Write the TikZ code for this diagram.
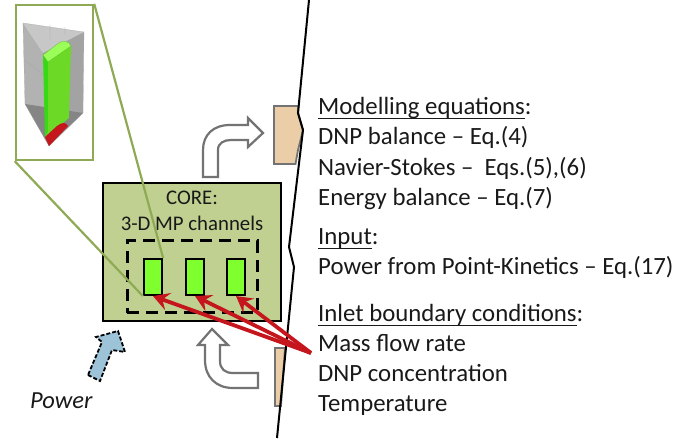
\documentclass[tikz,border=0pt]{standalone}
\usepackage{fontspec}
\setmainfont{Carlito}
\usetikzlibrary{arrows.meta}
\definecolor{coregreen}{HTML}{C0D090}
\definecolor{chgreen}{HTML}{80FF2E}
\definecolor{linkgreen}{HTML}{8FAA55}
\definecolor{peach}{HTML}{EBCDA8}
\definecolor{flowred}{HTML}{C4161C}
\definecolor{powerblue}{HTML}{9DC3D8}
\newcommand\ulin[1]{\setbox0\hbox{#1}\rlap{\rule[-3.8pt]{\wd0}{1.2pt}}\box0}
\tikzset{
	txt/.style={anchor=base west,inner sep=0,font=\fontsize{24.8}{26}\selectfont,text=black!90},
	coretxt/.style={anchor=base,inner sep=0,font=\fontsize{20.8}{22}\selectfont,text=black!90},
	chan/.style={draw,line width=2.2pt,fill=chgreen,minimum width=18,minimum height=36,inner sep=0},
	link/.style={draw=linkgreen,line width=2.2pt},
	flow/.style={draw=flowred,line width=3.8pt,-{Stealth[length=16pt,width=18pt,inset=6pt]}},
	bent/.style={draw=black!55,line width=2.2pt,fill=white,line join=miter},
	block/.style={draw=black!55,line width=1.8pt,fill=peach}
}
\begin{document}
\begin{tikzpicture}[x=1pt,y=-1pt]
	\useasboundingbox (0,0) rectangle (694,443);
	
	%PEACH BLOCKS
	\draw[block] (298.5,106)--(274,106)--(274,164)--(295.5,164)--(298,150)--(303,130)--(298,113)--cycle;
	\draw[block] (285,348)--(275,348)--(275,406)--(281,406)--cycle;
	
	%BOUNDARY
	\draw[line width=2pt] (309,0)--(298,113)--(303,130)--(289,247)--(294,267)--(277,438);
	
	%BENT ARROWS
	\draw[bent] (203,177)--(218,177)--(218,150) .. controls (218,143) and (224,140) .. (231,140)--(248,140)--(248,147)--(263,133)--(248,118)--(248,125)--(230,125) .. controls (213,125) and (203,135) .. (203,150)--cycle;
	\draw[bent] (212,329)--(228,345)--(220,345)--(220,361) .. controls (220,369) and (225,373) .. (233,373)--(258,373)--(258,388)--(233,388) .. controls (216,388) and (205,377) .. (205,360)--(205,345)--(198,345)--cycle;
	
	%CORE
	\node[draw,line width=2pt,fill=coregreen,minimum width=178,minimum height=138,inner sep=0] (core) at (192,252) {};
	\node[coretxt] (coretitle) at (192,205) {CORE:};
	\node[coretxt] (coresub) at (192,231) {3-D MP channels};
	\node[draw,line width=3pt,dash pattern=on 12pt off 7pt,minimum width=130,minimum height=72,inner sep=0] (mpbox) at (192,277) {};
	\node[chan] (chanA) at (153,277) {};
	\node[chan] (chanB) at (195,277) {};
	\node[chan] (chanC) at (236,277) {};
	
	%INSET
	\node[draw=linkgreen,line width=2.4pt,fill=white,minimum width=77,minimum height=155,inner sep=0] (inset) at (54.5,82.5) {};
	\fill[black!22] (23,23)--(84,32)--(43,53)--cycle;
	\fill[black!30] (23,23)--(43,53)--(49,146)--(25,104)--cycle;
	\fill[black!36] (84,32)--(43,53)--(49,146)--(83,113)--cycle;
	\fill[black!48] (25,104)--(83,113)--(49,146)--cycle;
	\draw[black!35,very thin] (23,23)--(84,32)--(83,113)--(49,146)--(25,104)--cycle (43,53)--(49,146) (25,60)--(43,75) (84,70)--(48,100) (50,25)--(50,40) (65,27)--(65,35);
	\fill[green!50!chgreen!85!black] (43,55)--(48,62)--(48,132)--(45,137)--cycle;
	\fill[chgreen!85!black] (48,62) .. controls (55,55) and (65,48) .. (71,46)--(69,118)--(63,123)--(45,137)--(48,132)--cycle;
	\fill[chgreen!80!white,draw=chgreen!70!black,very thin] (43,55)--(59,43) .. controls (63,40) and (69,41) .. (71,46)--(48,62)--cycle;
	\fill[flowred] (45,137)--(57,126) .. controls (62,122) and (66,122) .. (68,126)--(49,146)--cycle;
	
	%LINKS
	\draw[link] (inset.north east)--(chanA.north east);
	\draw[link] (inset.south west)--(chanA.south west);
	
	%RED ARROWS
	\coordinate (fork) at (311,353);
	\draw[flow] (fork)--(chanA.south);
	\draw[flow] (fork)--(chanB.south);
	\draw[flow] (fork)--(chanC.south);
	
	%POWER
	\draw[fill=powerblue,line width=1.8pt,dash pattern=on 4pt off 2pt] (88,375)--(100,381)--(112,350)--(125,352)--(118,331)--(96,337)--(102,342)--cycle;
	\node[txt,font=\fontsize{24.5}{26}\selectfont\itshape] (power) at (30,409) {Power};
	
	%TEXT
	\node[txt] (eqhead) at (318,115) {\ulin{Modelling equations}:};
	\node[txt] (eqdnp) at (318,145) {DNP balance – Eq.(4)};
	\node[txt] (eqns) at (318,176) {Navier-Stokes –~ Eqs.(5),(6)};
	\node[txt] (eqen) at (318,206) {Energy balance – Eq.(7)};
	\node[txt] (inhead) at (318,245) {\ulin{Input}:};
	\node[txt] (inpow) at (318,275) {Power from Point-Kinetics – Eq.(17)};
	\node[txt] (bchead) at (318,322) {\ulin{Inlet boundary conditions}:};
	\node[txt] (bcmass) at (318,352) {Mass flow rate};
	\node[txt] (bcdnp) at (318,382) {DNP concentration};
	\node[txt] (bctemp) at (318,412) {Temperature};
\end{tikzpicture}
\end{document}
